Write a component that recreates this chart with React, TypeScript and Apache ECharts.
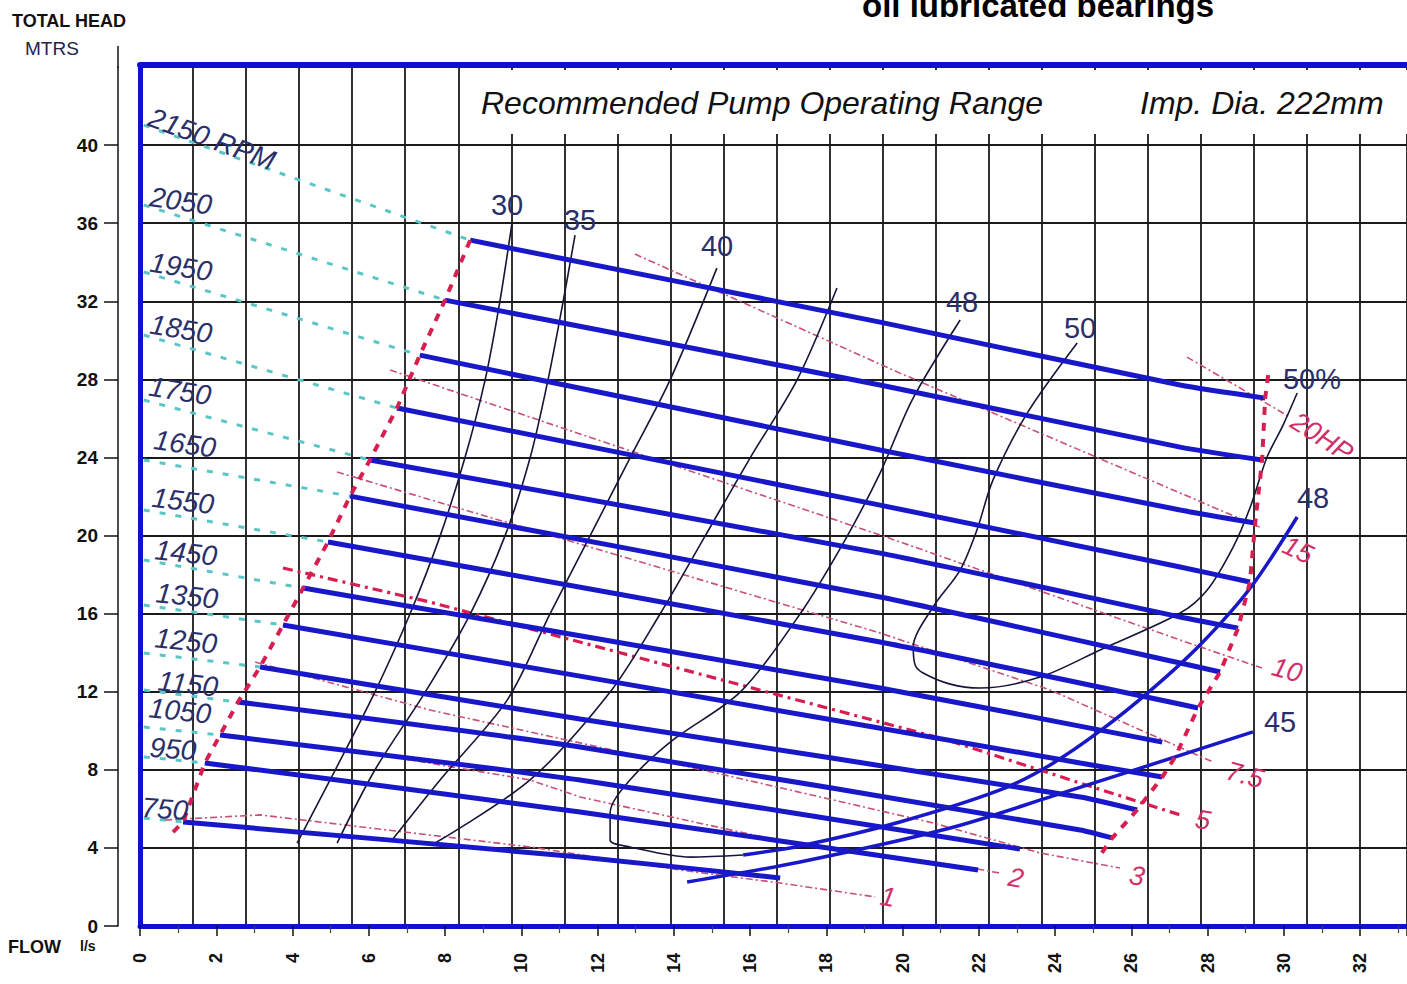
import React, { useEffect, useRef } from 'react';
import * as echarts from 'echarts';

const FONT = '"Liberation Sans", Arial, sans-serif';

// axis extents (flow l/s, head m)
const X_MAX = 33.23;
const Y_MAX = 44;
const GRID_COLS = 23; // vertical grid lines every 32/23 l/s
const GRID_STEP = 32 / GRID_COLS;
const yTickValues = [0, 4, 8, 12, 16, 20, 24, 28, 32, 36, 40];

// head / flow curves per speed  [flow l/s, head m]
const head2150 = [[8.66, 35.13], [19.41, 30.93], [27.28, 27.71], [29.51, 27.04]];
const head2050 = [[8.0, 32.06], [19.41, 27.71], [27.28, 24.53], [29.43, 23.87]];
const head1950 = [[7.34, 29.24], [19.41, 24.38], [27.28, 21.31], [29.25, 20.64]];
const head1850 = [[6.74, 26.53], [19.41, 21.56], [27.28, 18.39], [29.11, 17.62]];
const head1750 = [[6.03, 23.87], [19.41, 19.1], [27.28, 15.83], [28.8, 15.26]];
const head1650 = [[5.51, 22.02], [19.41, 16.85], [27.28, 13.47], [28.33, 13.01]];
const head1550 = [[4.93, 19.67], [19.41, 14.55], [27.75, 11.17]];
const head1450 = [[4.28, 17.31], [19.41, 12.19], [26.81, 9.42]];
const head1350 = [[3.75, 15.42], [11.54, 12.8], [24.66, 8.35], [26.81, 7.63]];
const head1250 = [[3.15, 13.27], [11.54, 10.6], [24.66, 6.61], [26.15, 5.94]];
const head1150 = [[2.57, 11.47], [11.54, 9.17], [24.66, 4.92], [25.5, 4.51]];
const head1050 = [[2.1, 9.78], [11.54, 7.48], [23.08, 3.94]];
const head950 = [[1.7, 8.35], [11.54, 5.84], [21.98, 2.87]];
const head750 = [[1.13, 5.33], [11.54, 3.53], [16.79, 2.46]];

const headCurves = [head2150, head2050, head1950, head1850, head1750, head1650, head1550,
  head1450, head1350, head1250, head1150, head1050, head950, head750];

// shut-off heads (cyan extrapolation to zero flow)
const shutoffFlow = 0.1;
const shutoffHeads = [41.02, 36.93, 33.5, 30.27, 26.94, 23.87, 21.31, 18.75, 16.44, 13.98, 12.09, 10.19, 8.66, 5.53];

const rpmNames = ['2150 RPM', '2050', '1950', '1850', '1750', '1650', '1550', '1450', '1350', '1250', '1150', '1050', '950', '750'];

// operating range boundaries
const leftBoundaryEnd = [0.79, 4.66];
const rightBoundary = [[29.59, 28.22], [29.51, 27.04], [29.43, 23.87], [29.25, 20.64], [29.11, 17.62], [28.8, 15.26],
  [28.33, 13.01], [27.75, 11.17], [27.15, 8.66], [26.81, 7.63], [26.15, 5.94], [25.5, 4.51], [25.13, 3.48]];

// power lines (HP)
const hp20 = [[27.46, 29.14], [30.16, 26.07]];
const hp15 = [[12.98, 34.42], [19.93, 28.32], [27.28, 22.18], [29.43, 20.38]];
const hp10 = [[6.56, 28.48], [19.41, 20.03], [27.28, 14.65], [29.43, 13.21]];
const hp7_5 = [[5.17, 23.25], [19.41, 15.01], [23.87, 12.09], [28.14, 8.4]];
const hp5 = [[3.75, 18.34], [7.61, 16.59], [21.17, 9.53], [24.66, 7.32], [27.28, 5.69]];
const hp3 = [[3.02, 13.52], [7.61, 11.06], [14.43, 8.14], [20.8, 5.28], [23.61, 3.74], [25.7, 2.97]];
const hp2 = [[2.23, 9.68], [5.85, 8.91], [10.23, 7.48], [11.54, 6.61], [16.45, 4.51], [21.51, 3.07], [22.56, 2.71]];
const hp1 = [[0.66, 5.43], [3.15, 5.69], [10.23, 4.05], [14.16, 2.87], [16.79, 2.2], [19.28, 1.49]];

// efficiency curves (%)
const eff30 = [[4.12, 4.25], [5.12, 7.99], [6.16, 11.98], [7.08, 15.98], [7.87, 19.97], [8.52, 23.97], [9.05, 27.96], [9.44, 32.01], [9.76, 36.06]];
const eff35 = [[5.17, 4.25], [6.16, 7.99], [7.48, 11.98], [8.66, 15.98], [9.57, 19.97], [10.23, 23.97], [10.7, 27.96], [11.1, 32.01], [11.41, 35.39]];
const eff40 = [[6.61, 4.4], [7.87, 7.48], [9.63, 11.57], [10.75, 15.98], [11.8, 19.97], [12.85, 23.97], [13.9, 27.96], [15.13, 33.7]];
const eff45Left = [[7.74, 4.25], [10.23, 7.48], [12.33, 11.98], [13.64, 15.98], [14.82, 19.97], [16.0, 23.97], [17.23, 27.96], [18.28, 32.68]];
const eff45Right = [[14.35, 2.25], [17.31, 3.28], [21.25, 5.02], [23.87, 6.61], [29.19, 9.94]];
const eff48Left = [[21.51, 31.04], [20.25, 26.94], [19.41, 23.2], [18.49, 19.77], [17.31, 15.98], [15.74, 11.98], [13.98, 9.53],
  [12.85, 7.48], [12.33, 5.79], [12.33, 4.4], [12.85, 4.05], [14.43, 3.53], [15.82, 3.64]];
const eff48Right = [[15.82, 3.64], [17.31, 4.1], [19.93, 5.33], [22.56, 6.97], [23.87, 8.25], [25.18, 9.99], [26.49, 12.04],
  [27.8, 14.39], [29.12, 17.31], [30.35, 20.95]];
const eff50 = [[24.58, 29.86], [23.27, 26.27], [22.37, 22.84], [21.95, 20.28], [21.51, 18.23], [20.8, 16.34], [20.28, 14.29],
  [20.33, 13.37], [20.54, 12.96], [21.25, 12.39], [22.03, 12.19], [23.61, 12.75], [25.18, 14.14], [27.28, 16.03],
  [27.99, 17.21], [28.67, 19.41], [29.12, 21.46], [29.56, 24.02], [29.98, 25.66], [30.35, 27.3]];

const C_BLUE = '#1818c8';
const C_RED = '#d81e50';
const C_HP = '#c8507a';
const C_CYAN = '#5cc6c6';
const C_EFF = '#15153a';
const C_LABEL = '#2a2f6a';
const C_PINK = '#d0306a';

function line(data: number[][], color: string, width: number, type: any, z: number, smooth: number | boolean = false) {
  return {
    type: 'line', data, xAxisIndex: 0, yAxisIndex: 0, symbol: 'none', showSymbol: false,
    smooth, silent: true, z, lineStyle: { color, width, type, cap: 'butt' },
  };
}

function txt(text: string, x: number, y: number, o: { size: number; color: string; style?: string; weight?: string; rot?: number; align?: string }) {
  const font = [o.style || '', o.weight || '', `${o.size}px`, FONT].filter(Boolean).join(' ');
  return {
    type: 'text', x, y, z: 10, rotation: ((o.rot || 0) * Math.PI) / 180, silent: true,
    style: { text, fill: o.color, font, align: o.align || 'center', verticalAlign: 'middle' },
  };
}

const rpmLabelPos = [
  [212, 139, -20], [181, 201, -8], [181, 267, -9], [181, 329, -9], [180, 391, -9], [185, 444, -8], [183, 501, -7],
  [186, 553, -6], [187, 596, -6], [186, 641, -6], [188, 684, -6], [180, 711, -6], [173, 749, -4], [165, 809, -4],
];

function buildOption() {
  const series: any[] = [];
  // cyan shut-off extensions
  headCurves.forEach((c, i) => series.push(line([[shutoffFlow, shutoffHeads[i]], c[0]], C_CYAN, 3, [6, 10], 3)));
  // HP lines
  [hp20, hp15, hp10, hp7_5, hp3, hp2, hp1].forEach((d) => series.push(line(d, C_HP, 1.6, [7, 3, 2, 3], 4)));
  series.push(line(hp5, C_RED, 3.2, [10, 5, 3, 5], 4));
  // efficiency thin curves
  [eff30, eff35, eff40, eff45Left, eff48Left, eff50].forEach((d) => series.push(line(d, C_EFF, 1.6, 'solid', 5, 0.3)));
  // efficiency thick branches
  [eff45Right, eff48Right].forEach((d) => series.push(line(d, C_BLUE, 3.5, 'solid', 6, 0.3)));
  // head curves
  headCurves.forEach((c) => series.push(line(c, C_BLUE, 5, 'solid', 7, 0.2)));
  // boundaries
  series.push(line([...headCurves.map((c) => c[0]), leftBoundaryEnd], C_RED, 4, [8, 8], 8));
  series.push(line(rightBoundary, C_RED, 4, [8, 8], 8));

  const graphic: any[] = [
    { type: 'rect', shape: { x: 463, y: 70, width: 950, height: 64 }, style: { fill: '#fff' }, z: 1, silent: true },
    { type: 'line', shape: { x1: 118, y1: 46, x2: 118, y2: 68 }, style: { stroke: '#111', lineWidth: 1.5 }, z: 10 },
    txt('TOTAL HEAD', 12, 21, { size: 18, color: '#111', weight: 'bold', align: 'left' }),
    txt('MTRS', 25, 48, { size: 19, color: '#23234a', align: 'left' }),
    txt('FLOW', 8, 947, { size: 18, color: '#111', weight: 'bold', align: 'left' }),
    txt('l/s', 80, 946, { size: 14, color: '#111', weight: 'bold', align: 'left' }),
    txt('oil lubricated bearings', 1038, 5, { size: 33, color: '#000', weight: 'bold' }),
    txt('Recommended Pump Operating Range', 481, 103, { size: 32, color: '#111', style: 'italic', align: 'left' }),
    txt('Imp. Dia. 222mm', 1140, 103, { size: 32, color: '#111', style: 'italic', align: 'left' }),
  ];
  rpmNames.forEach((n, i) => {
    const p = rpmLabelPos[i];
    graphic.push(txt(n, p[0], p[1], { size: 28, color: C_LABEL, style: 'italic', rot: p[2] }));
  });
  const effLabels: [string, number, number][] = [
    ['30', 507, 205], ['35', 580, 220], ['40', 717, 246], ['48', 962, 302], ['50', 1080, 328],
    ['50%', 1312, 379], ['48', 1313, 498], ['45', 1280, 722],
  ];
  effLabels.forEach(([t, x, y]) => graphic.push(txt(t, x, y, { size: 29, color: C_LABEL })));
  const hpLabels: [string, number, number, number][] = [
    ['20HP', 1322, 437, -33], ['15', 1298, 550, -25], ['10', 1287, 670, -15], ['7.5', 1245, 775, -15],
    ['5', 1203, 820, -10], ['3', 1137, 876, -10], ['2', 1016, 878, -10], ['1', 888, 897, -10],
  ];
  hpLabels.forEach(([t, x, y, r]) => graphic.push(txt(t, x, y, { size: 27, color: C_PINK, style: 'italic', rot: r })));

  const gridLine = { color: '#1a1a1a', width: 1.8 };
  return {
    animation: false,
    backgroundColor: '#ffffff',
    grid: { left: 140, top: 67, right: 0, bottom: 58, containLabel: false },
    xAxis: [
      {
        type: 'value', min: 0, max: X_MAX, interval: 2, position: 'bottom', offset: 14,
        axisLine: { show: true, lineStyle: { color: '#111', width: 1.5 } },
        axisTick: { show: true, length: 10, lineStyle: { color: '#111', width: 1.5 } },
        minorTick: { show: true, splitNumber: 2, length: 7, lineStyle: { color: '#444', width: 1.2 } },
        axisLabel: {
          rotate: 90, margin: 13, color: '#111', fontSize: 18, fontWeight: 'bold', fontFamily: FONT,
          formatter: (v: number) => (Math.abs(v - Math.round(v)) < 1e-6 && Math.round(v) % 2 === 0 ? String(Math.round(v)) : ''),
        },
        splitLine: { show: false },
      },
      {
        type: 'value', min: 0, max: X_MAX / GRID_STEP, interval: 1, position: 'bottom',
        axisLine: { show: true, onZero: false, lineStyle: { color: '#1010d0', width: 5 } },
        axisTick: { show: false }, axisLabel: { show: false },
        splitLine: { show: true, lineStyle: gridLine },
      },
      {
        type: 'value', min: 0, max: X_MAX, position: 'top', offset: 2,
        axisLine: { show: true, onZero: false, lineStyle: { color: '#1010d0', width: 6 } },
        axisTick: { show: false }, axisLabel: { show: false }, splitLine: { show: false },
      },
    ],
    yAxis: [
      {
        type: 'value', min: 0, max: Y_MAX, interval: 4, position: 'left', offset: 22,
        axisLine: { show: true, onZero: false, lineStyle: { color: '#111', width: 1.5 } },
        axisTick: { show: true, length: 14, customValues: yTickValues, lineStyle: { color: '#111', width: 1.5 } },
        axisLabel: {
          margin: 20, color: '#111', fontSize: 19, fontWeight: 'bold', fontFamily: FONT, customValues: yTickValues,
          formatter: (v: number) => (v <= 40 ? String(v) : ''),
        },
        splitLine: { show: true, lineStyle: gridLine },
      },
      {
        type: 'value', min: 0, max: Y_MAX, position: 'left',
        axisLine: { show: true, onZero: false, lineStyle: { color: '#1010d0', width: 5 } },
        axisTick: { show: false }, axisLabel: { show: false }, splitLine: { show: false },
      },
    ],
    series,
    graphic,
  };
}

export default function App() {
  const ref = useRef<HTMLDivElement>(null);
  useEffect(() => {
    if (!ref.current) return;
    const chart = echarts.init(ref.current, null, { renderer: 'svg' });
    chart.setOption(buildOption() as any);
    return () => chart.dispose();
  }, []);
  return (
    <div
      ref={ref}
      style={{ position: 'fixed', left: 0, top: 0, width: 1407, height: 984, background: '#fff' }}
    />
  );
}
